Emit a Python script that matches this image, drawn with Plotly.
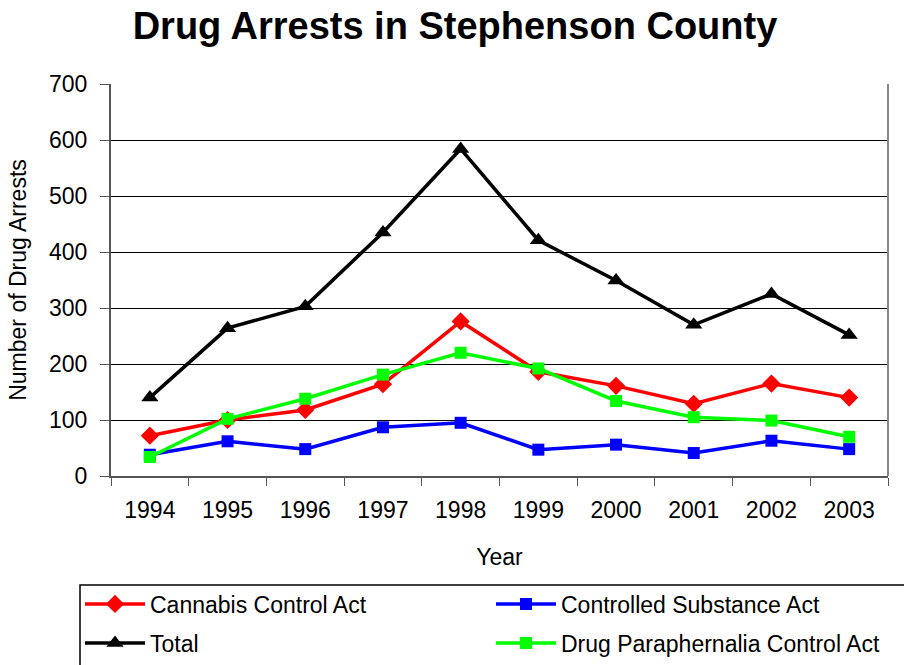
import plotly.graph_objects as go

years = ["1994", "1995", "1996", "1997", "1998", "1999", "2000", "2001", "2002", "2003"]
cannabis = [72, 100, 118, 164, 276, 186, 161, 129, 165, 140]
controlled = [38, 62, 48, 87, 95, 47, 56, 41, 63, 48]
total = [140, 264, 303, 435, 584, 421, 349, 270, 325, 252]
paraphernalia = [34, 102, 138, 181, 220, 192, 134, 105, 99, 70]

FONT = "Liberation Sans, Arial, sans-serif"

# figure and plot area in pixels
W, H = 904, 665
L, R, T, B = 111, 16, 84, 189
PW, PH = W - L - R, H - T - B


def px_x(x):
    return (x - L) / PW


def px_y(y):
    return (H - B - y) / PH


series = [
    ("Cannabis Control Act", cannabis, "#ff0000", "diamond", 14, "legend"),
    ("Controlled Substance Act", controlled, "#0000ff", "square", 12, "legend"),
    ("Total", total, "#000000", "triangle-up", 15, "legend2"),
    ("Drug Paraphernalia Control Act", paraphernalia, "#00ff00", "square", 12, "legend2"),
]

fig = go.Figure()
for name, vals, color, sym, size, leg in series:
    fig.add_trace(go.Scatter(
        x=years, y=vals, name=name, mode="lines+markers",
        line=dict(color=color, width=3.5),
        marker=dict(symbol=sym, size=size, color=color),
        legend=leg,
    ))

legend_common = dict(
    orientation="h", xanchor="left", yanchor="middle",
    bgcolor="rgba(0,0,0,0)", borderwidth=0,
    font=dict(size=23, family=FONT, color="black"),
    entrywidth=336, entrywidthmode="pixels",
    traceorder="normal", itemwidth=60,
)

fig.update_layout(
    width=W, height=H,
    margin=dict(l=L, r=R, t=T, b=B, autoexpand=False),
    paper_bgcolor="white", plot_bgcolor="white",
    font=dict(family=FONT, size=23, color="black"),
    title=dict(text="<b>Drug Arrests in Stephenson County</b>",
               x=455 / W, xanchor="center", y=1 - 26 / H, yanchor="middle",
               font=dict(size=38, family=FONT, color="black")),
    showlegend=True,
    legend=dict(x=px_x(80), y=px_y(604), **legend_common),
    legend2=dict(x=px_x(80), y=px_y(643), **legend_common),
)

fig.update_xaxes(
    type="category", range=[-0.5, 9.5], automargin=False,
    showline=True, linecolor="#555555", linewidth=2,
    ticks="outside", tickson="boundaries", ticklen=8, tickcolor="#555555",
    ticklabelstandoff=12,
    showgrid=False, mirror=False,
    tickfont=dict(size=23),
    title=dict(text="Year", font=dict(size=23), standoff=27),
)
fig.update_yaxes(
    range=[0, 700], dtick=100, automargin=False,
    showline=True, linecolor="#555555", linewidth=2,
    ticks="outside", ticklen=9, tickcolor="#555555",
    ticklabelstandoff=8,
    showgrid=True, gridcolor="black", gridwidth=1,
    zeroline=False,
    tickfont=dict(size=23),
    title=dict(text="Number of Drug Arrests", font=dict(size=23), standoff=16),
)
# right-hand frame edge
fig.add_shape(type="line", xref="paper", yref="paper", x0=1, x1=1, y0=0, y1=1,
              line=dict(color="#888888", width=2))
# legend frame
fig.add_shape(type="rect", xref="paper", yref="paper",
              x0=px_x(80), x1=px_x(906), y0=px_y(585), y1=px_y(667),
              line=dict(color="black", width=1.5), fillcolor="rgba(0,0,0,0)", layer="below")

fig.write_html("out.html")
